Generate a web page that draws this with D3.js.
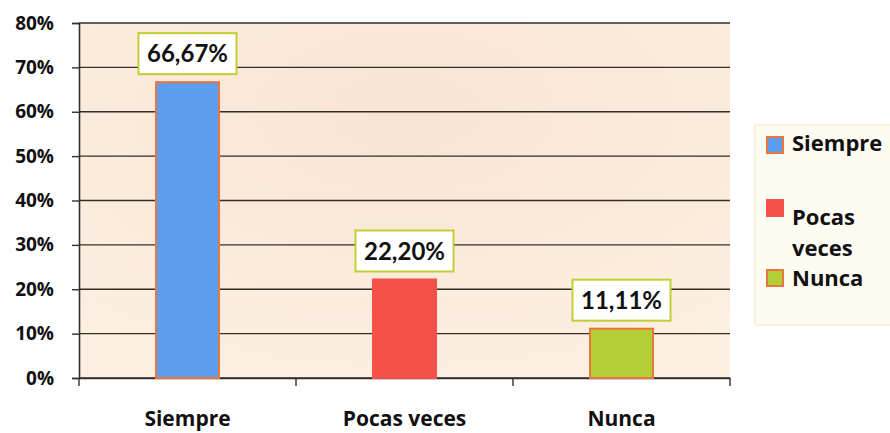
<!DOCTYPE html>
<html>
<head>
<meta charset="utf-8">
<script src="https://cdn.jsdelivr.net/npm/d3@7/dist/d3.min.js"></script>
<style>
  body { margin: 0; background: #fff; }
  svg { font-family: "Open Sans", sans-serif; font-weight: bold; }
</style>
</head>
<body>
<div id="chart"></div>
<script>
const categories = ["Siempre", "Pocas veces", "Nunca"];
const values = [66.67, 22.20, 11.11];
const valueLabels = ["66,67%", "22,20%", "11,11%"];
const yTicks = [0, 10, 20, 30, 40, 50, 60, 70, 80];
const legendLines = [["Siempre"], ["Pocas", "veces"], ["Nunca"]];

const colors = ["#5c9ded", "#f5504a", "#b3cf35"];
const strokes = ["#e8763e", "#f5504a", "#e8763e"];

const width = 890, height = 433;
const margin = {top: 23, right: 160, bottom: 55, left: 79};
const plotW = width - margin.left - margin.right;
const plotH = height - margin.top - margin.bottom;

let svg = d3.select("#chart")
    .append("svg")
    .attr("width", width)
    .attr("height", height);

let defs = svg.append("defs");
let grad = defs.append("radialGradient").attr("id", "bg")
    .attr("cx", "50%").attr("cy", "25%").attr("r", "80%");
grad.append("stop").attr("offset", "0%").attr("stop-color", "#fae4d3");
grad.append("stop").attr("offset", "100%").attr("stop-color", "#fcf0e1");

let g = svg.append("g")
    .attr("transform", `translate(${margin.left},${margin.top})`);

// plot background
g.append("rect")
    .attr("width", plotW)
    .attr("height", plotH)
    .attr("fill", "url(#bg)");

let x = d3.scaleBand()
    .domain(categories)
    .range([0, plotW]);

let y = d3.scaleLinear()
    .domain([0, 80])
    .range([plotH, 0]);

// grid lines
g.append("g")
    .selectAll("line")
    .data(yTicks)
    .enter()
    .append("line")
    .attr("x1", 0)
    .attr("x2", plotW)
    .attr("y1", d => y(d))
    .attr("y2", d => y(d))
    .attr("stroke", "#332e2c")
    .attr("stroke-width", 1.4);

// y axis
let yAxis = g.append("g")
    .call(d3.axisLeft(y).tickValues(yTicks).tickSize(7).tickPadding(18).tickFormat(d => d + "%"));
yAxis.select(".domain").attr("stroke", "#332e2c").attr("stroke-width", 1.6);
yAxis.selectAll(".tick line").attr("stroke", "#332e2c").attr("stroke-width", 1.4);
yAxis.selectAll("text")
    .style("font-size", "19px")
    .style("font-weight", "bold")
    .style("font-family", "'Open Sans', sans-serif")
    .attr("fill", "#111");

// x axis
let xAxis = g.append("g")
    .attr("transform", `translate(0,${plotH})`)
    .call(d3.axisBottom(x).tickSize(0).tickPadding(33));
xAxis.select(".domain").attr("stroke", "#332e2c").attr("stroke-width", 1.6);
xAxis.selectAll("text")
    .style("font-size", "21px")
    .style("font-weight", "bold")
    .style("font-family", "'Open Sans', sans-serif")
    .attr("fill", "#111");

// category separator ticks below axis
let bounds = categories.map(c => x(c)).concat([plotW]);
g.append("g")
    .selectAll("line")
    .data(bounds)
    .enter()
    .append("line")
    .attr("x1", d => d)
    .attr("x2", d => d)
    .attr("y1", plotH)
    .attr("y2", plotH + 8)
    .attr("stroke", "#332e2c")
    .attr("stroke-width", 1.4);

// bars
const barW = 63;
g.selectAll(".bar")
    .data(values)
    .enter()
    .append("rect")
    .attr("class", "bar")
    .attr("x", (d, i) => x(categories[i]) + x.bandwidth() / 2 - barW / 2)
    .attr("y", d => y(d))
    .attr("width", barW)
    .attr("height", d => plotH - y(d))
    .attr("fill", (d, i) => colors[i])
    .attr("stroke", (d, i) => strokes[i])
    .attr("stroke-width", 2);

// value labels
const boxW = 98, boxH = 41;
let labels = g.selectAll(".vlabel")
    .data(values)
    .enter()
    .append("g")
    .attr("class", "vlabel")
    .attr("transform", (d, i) => `translate(${x(categories[i]) + x.bandwidth() / 2},${y(d) - 8 - boxH / 2})`);

labels.append("rect")
    .attr("x", -boxW / 2)
    .attr("y", -boxH / 2)
    .attr("width", boxW)
    .attr("height", boxH)
    .attr("fill", "#fff")
    .attr("stroke", "#bfcf35")
    .attr("stroke-width", 2);

labels.append("text")
    .attr("text-anchor", "middle")
    .attr("dy", "0.36em")
    .style("font-size", "24px")
    .style("font-family", "Lato, sans-serif")
    .style("font-weight", "bold")
    .attr("fill", "#111")
    .text((d, i) => valueLabels[i]);

// legend
let legend = svg.append("g").attr("transform", "translate(755,125)");
legend.append("rect")
    .attr("width", 140)
    .attr("height", 200)
    .attr("fill", "#fefbf3")
    .attr("stroke", "#f2e6c8")
    .attr("stroke-width", 1);

// baselines of the first line of each entry, and square tops
const legendBase = [26, 100, 161];
const legendSq = [12, 75, 145];
legendLines.forEach(function(lines, i) {
    let item = legend.append("g");
    item.append("rect")
        .attr("x", 12)
        .attr("y", legendSq[i])
        .attr("width", 16)
        .attr("height", 16)
        .attr("fill", colors[i])
        .attr("stroke", strokes[i])
        .attr("stroke-width", 2);
    lines.forEach(function(line, j) {
        item.append("text")
            .attr("x", 37)
            .attr("y", legendBase[i] + j * 31)
            .style("font-size", "22px")
            .attr("fill", "#111")
            .text(line);
    });
});
</script>
</body>
</html>
